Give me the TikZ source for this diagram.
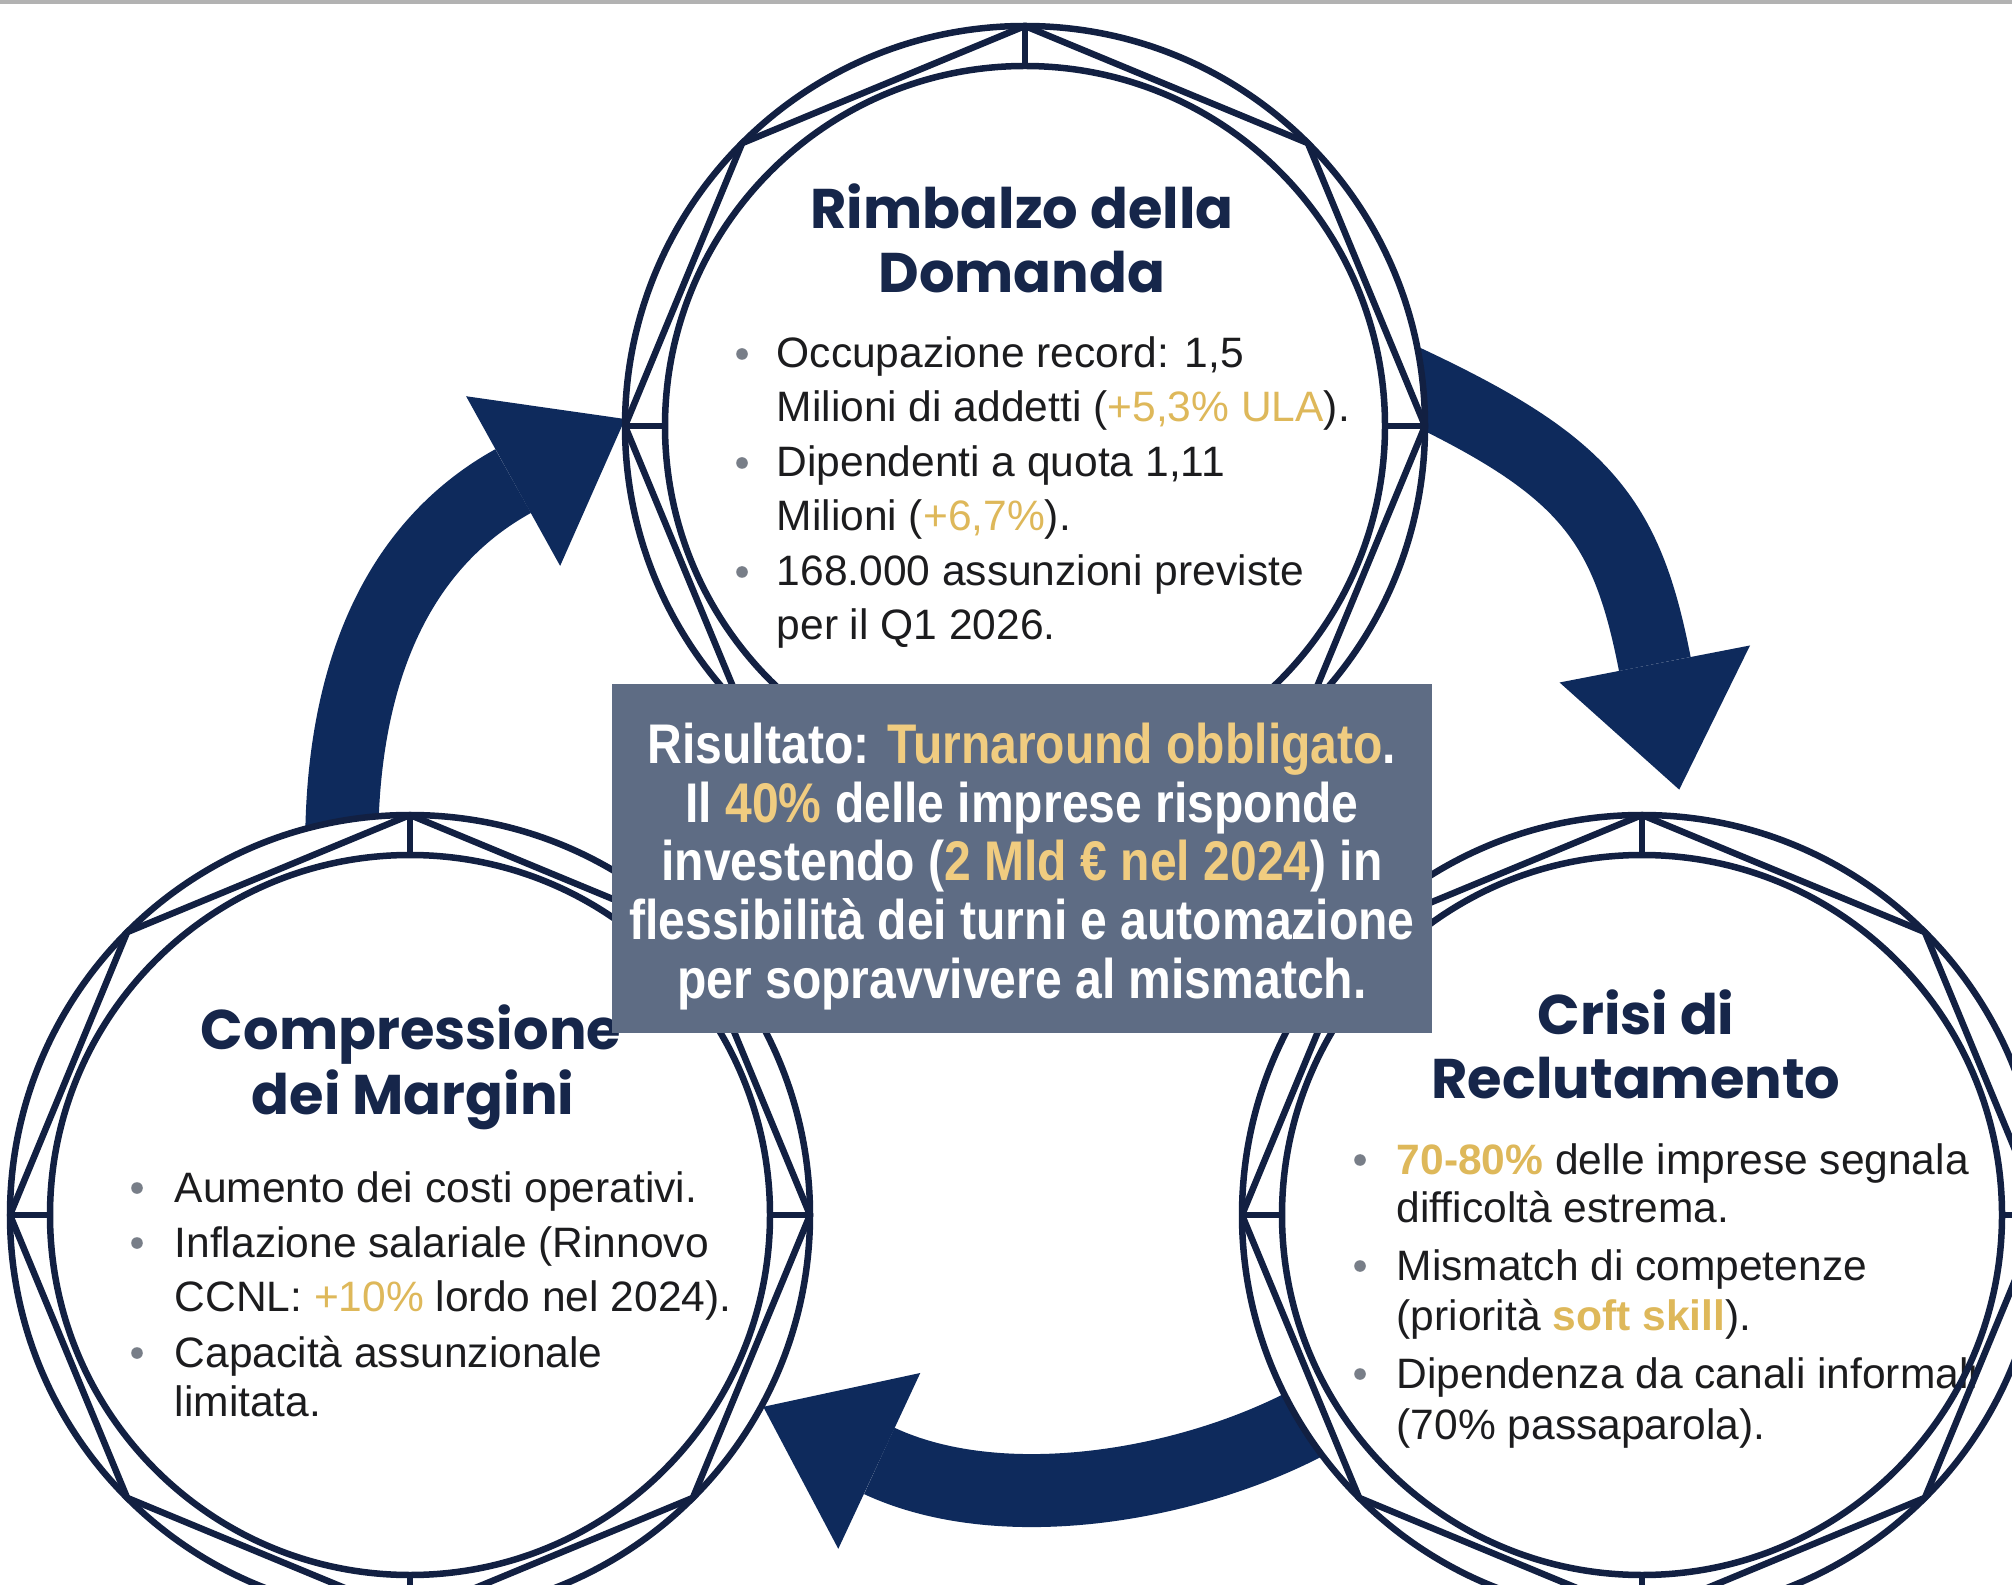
\documentclass[tikz,border=0pt]{standalone}
\usepackage{fontspec}
\setmainfont{Liberation Sans}
\newfontfamily\titlefont{Poppins}
\newfontfamily\boxfont{Liberation Sans}[FakeStretch=0.86]
\usetikzlibrary{calc}

\definecolor{ringnavy}{RGB}{18,32,66}
\definecolor{arrownavy}{RGB}{14,42,92}
\definecolor{titlenavy}{RGB}{22,38,74}
\definecolor{boxslate}{RGB}{94,108,132}
\definecolor{gold}{RGB}{222,184,90}
\definecolor{boxgold}{RGB}{240,204,128}
\definecolor{bodytext}{RGB}{28,28,30}
\definecolor{dotgray}{RGB}{120,126,136}
\definecolor{topgray}{RGB}{178,178,178}

\newcommand{\hl}[1]{\textcolor{gold}{#1}}
\newcommand{\bhl}[1]{\textcolor{boxgold}{#1}}

\tikzset{
  ringnode/.style={circle, minimum size=8cm, inner sep=0pt, outer sep=0pt, fill=white},
  ringline/.style={draw=ringnavy, line width=0.065cm},
  ttl/.style={anchor=base, text=titlenavy, inner sep=0pt,
    font=\titlefont\bfseries\fontsize{15.9}{18}\selectfont},
  bodyline/.style={anchor=base west, text=bodytext, inner sep=0pt,
    font=\fontsize{12.1}{14.5}\selectfont},
  resline/.style={anchor=base, text=white, inner sep=0pt,
    font=\boxfont\bfseries\fontsize{15.9}{17}\selectfont},
  arrowshaft/.style={draw=arrownavy, line width=0.73cm},
  arrowhead/.style={fill=arrownavy},
  bulletdot/.style={fill=dotgray},
  panel/.style={fill=boxslate, minimum width=8.2cm, minimum height=3.49cm, inner sep=0pt},
}

% double ring with inscribed octagon and four radial ticks
\newcommand{\ringdeco}[1]{%
  \draw[ringline] (#1.center) circle (4);
  \draw[ringline] (#1.center) circle (3.6);
  \draw[ringline, line join=round] (#1.0) -- (#1.45) -- (#1.90) -- (#1.135) --
    (#1.180) -- (#1.225) -- (#1.270) -- (#1.315) -- cycle;
  \foreach \a in {0,90,180,270}
    \draw[ringline] (#1.\a) -- ($(#1.center)+(\a:3.6)$);
}

\begin{document}
\begin{tikzpicture}
\useasboundingbox (0,0) rectangle (20.12,15.84);
\clip (0,0) rectangle (20.12,15.84);
\fill[white] (0,0) rectangle (20.12,15.84);
\draw[topgray, line width=0.4mm] (0,15.82) -- (20.12,15.82);

% the three stages
\path (10.25,11.58) node[ringnode] (top) {};
\path (4.10,3.69) node[ringnode] (bl) {};
\path (16.42,3.69) node[ringnode] (br) {};

% cycle arrows
\coordinate (s1) at ($(bl.center)+(100.5:3.75)$);
\coordinate (t1) at (top.179);
\coordinate (b1) at ($(t1)+(209:1.28)$);
\coordinate (s2) at ($(top.center)+(7:3.8)$);
\coordinate (t2) at ($(br.center)+(85:4.27)$);
\coordinate (b2) at ($(t2)+(101:1.28)$);
\coordinate (s3) at ($(br.center)+(212:3.75)$);
\coordinate (t3) at ($(bl.center)+(-28.5:4.02)$);
\coordinate (b3) at ($(t3)+(-25:1.28)$);

\draw[arrowshaft] (s1) .. controls ($(s1)+(0,1.62)$) and ($(b1)+(209:1.4)$) .. (b1);
\fill[arrowhead] (t1) -- ($(b1)!0.97cm!90:(t1)$) -- ($(b1)!0.97cm!-90:(t1)$) -- cycle;

\draw[arrowshaft] (s2) .. controls ($(s2)+(-25:2.0)$) and ($(b2)+(101:1.5)$) .. (b2);
\fill[arrowhead] (t2) -- ($(b2)!0.97cm!90:(t2)$) -- ($(b2)!0.97cm!-90:(t2)$) -- cycle;

\draw[arrowshaft] (s3) .. controls ($(s3)+(210:1.4)$) and ($(b3)+(-25:1.4)$) .. (b3);
\fill[arrowhead] (t3) -- ($(b3)!0.97cm!90:(t3)$) -- ($(b3)!0.97cm!-90:(t3)$) -- cycle;

% white discs over the arrow ends
\fill[white] (top.center) circle (4);
\fill[white] (bl.center) circle (4);
\fill[white] (br.center) circle (4);

% top stage text
\node[ttl] (toptitle1) at (10.22,13.55) {Rimbalzo della};
\node[ttl] (toptitle2) at (10.22,12.91) {Domanda};
\fill[bulletdot] (7.42,12.30) circle (0.058);
\node[bodyline] (ta1) at (7.76,12.16) {Occupazione record: 1,5};
\node[bodyline] (ta2) at (7.76,11.62) {Milioni di addetti (\hl{+5,3\% ULA}).};
\fill[bulletdot] (7.42,11.21) circle (0.058);
\node[bodyline] (tb1) at (7.76,11.07) {Dipendenti a quota 1,11};
\node[bodyline] (tb2) at (7.76,10.53) {Milioni (\hl{+6,7\%}).};
\fill[bulletdot] (7.42,10.12) circle (0.058);
\node[bodyline] (tc1) at (7.76,9.98) {168.000 assunzioni previste};
\node[bodyline] (tc2) at (7.76,9.44) {per il Q1 2026.};

% bottom-left stage text
\node[ttl] (bltitle1) at (4.11,5.35) {Compressione};
\node[ttl] (bltitle2) at (4.13,4.70) {dei Margini};
\fill[bulletdot] (1.37,3.96) circle (0.058);
\node[bodyline] (la1) at (1.74,3.82) {Aumento dei costi operativi.};
\fill[bulletdot] (1.37,3.41) circle (0.058);
\node[bodyline] (lb1) at (1.74,3.27) {Inflazione salariale (Rinnovo};
\node[bodyline] (lb2) at (1.74,2.73) {CCNL: \hl{+10\%} lordo nel 2024).};
\fill[bulletdot] (1.37,2.31) circle (0.058);
\node[bodyline] (lc1) at (1.74,2.17) {Capacità assunzionale};
\node[bodyline] (lc2) at (1.74,1.68) {limitata.};

% bottom-right stage text
\node[ttl] (brtitle1) at (16.36,5.50) {Crisi di};
\node[ttl] (brtitle2) at (16.36,4.86) {Reclutamento};
\fill[bulletdot] (13.60,4.24) circle (0.058);
\node[bodyline] (ra1) at (13.96,4.10) {\hl{\bfseries 70-80\%} delle imprese segnala};
\node[bodyline] (ra2) at (13.96,3.62) {difficoltà estrema.};
\fill[bulletdot] (13.60,3.18) circle (0.058);
\node[bodyline] (rb1) at (13.96,3.04) {Mismatch di competenze};
\node[bodyline] (rb2) at (13.96,2.54) {(priorità \hl{\bfseries soft skill}).};
\fill[bulletdot] (13.60,2.10) circle (0.058);
\node[bodyline] (rc1) at (13.96,1.96) {Dipendenza da canali informali};
\node[bodyline] (rc2) at (13.96,1.45) {(70\% passaparola).};

% ring outlines
\ringdeco{top}
\ringdeco{bl}
\ringdeco{br}

% central result panel
\node[panel] (result) at (10.22,7.255) {};
\node[resline] (r1) at (10.22,8.20) {Risultato: \bhl{Turnaround obbligato}.};
\node[resline] (r2) at (10.22,7.61) {Il \bhl{40\%} delle imprese risponde};
\node[resline] (r3) at (10.22,7.04) {investendo (\bhl{2 Mld € nel 2024}) in};
\node[resline] (r4) at (10.22,6.45) {flessibilità dei turni e automazione};
\node[resline] (r5) at (10.22,5.86) {per sopravvivere al mismatch.};
\end{tikzpicture}
\end{document}
